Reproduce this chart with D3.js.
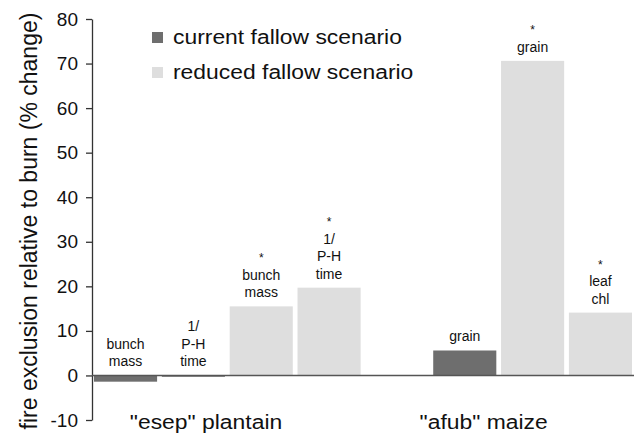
<!DOCTYPE html>
<html>
<head>
<meta charset="utf-8">
<script src="https://cdn.jsdelivr.net/npm/d3@7"></script>
<style>
  body { margin: 0; background: #fff; }
  text { font-family: "Liberation Sans", Arial, sans-serif; fill: #111; }
</style>
</head>
<body>
<div id="chart-area"></div>
<script>
// bars, left to right (a blank slot separates the two crops)
var crops = ['"esep" plantain', '"afub" maize'];
var scenarios = ["current fallow scenario", "reduced fallow scenario"];
var barSlot = [0, 1, 2, 3, 5, 6, 7];
var barScenario = [0, 0, 1, 1, 0, 1, 1];
var barValues = [-1.4, -0.3, 15.5, 19.7, 5.6, 70.6, 14.1];
var barLabels = [
  ["bunch", "mass"],
  ["1/", "P-H", "time"],
  ["*", "bunch", "mass"],
  ["*", "1/", "P-H", "time"],
  ["grain"],
  ["*", "grain"],
  ["*", "leaf", "chl"]
];
var yTicks = [-10, 0, 10, 20, 30, 40, 50, 60, 70, 80];
var colors = ["#6e6e6e", "#dedede"];

var width = 635, height = 439;
var stretch = 1.09; // the original's text is a little wider than Arial

var svg = d3.select("#chart-area")
  .append("svg")
  .attr("width", width)
  .attr("height", height);

var y = d3.scaleLinear().domain([-10, 80]).range([420, 19]);
var x = d3.scaleBand().domain(d3.range(8)).range([94, 632]).paddingInner(0.07).paddingOuter(0);

// y axis
var yAxis = svg.append("g")
  .attr("transform", "translate(92,0)")
  .call(d3.axisLeft(y).tickValues(yTicks).tickFormat(function(d) { return String(d); })
    .tickSize(6).tickPadding(8).tickSizeOuter(0));
yAxis.select(".domain").attr("stroke", "#333").attr("stroke-width", 1.3);
yAxis.selectAll(".tick line").attr("stroke", "#333").attr("stroke-width", 1.3);
yAxis.selectAll(".tick text")
  .style("font-family", "'Liberation Sans', Arial, sans-serif")
  .style("font-size", "19px")
  .attr("fill", "#111");

// bars
svg.selectAll("rect.bar")
  .data(barValues)
  .enter()
  .append("rect")
  .attr("class", "bar")
  .attr("x", function(d, i) { return x(barSlot[i]); })
  .attr("width", x.bandwidth())
  .attr("y", function(d) { return y(Math.max(d, 0)); })
  .attr("height", function(d) { return Math.max(Math.abs(y(d) - y(0)), 1); })
  .attr("fill", function(d, i) { return colors[barScenario[i]]; });

// zero line
svg.append("line")
  .attr("x1", 92).attr("x2", 634)
  .attr("y1", y(0)).attr("y2", y(0))
  .attr("stroke", "#555").attr("stroke-width", 1.5);

// bar annotations
var lineH = 17.5;
barValues.forEach(function(v, i) {
  var lines = barLabels[i];
  var cx = x(barSlot[i]) + x.bandwidth() / 2;
  var base = y(Math.max(v, 0)) - 9;
  var t = svg.append("text")
    .attr("text-anchor", "middle")
    .style("font-size", "14px");
  lines.forEach(function(s, j) {
    t.append("tspan")
      .attr("x", cx)
      .attr("y", base - (lines.length - 1 - j) * lineH)
      .style("font-size", s === "*" ? "12px" : "14px")
      .text(s);
  });
});

// crop labels
var cropX = [x(1) + x.bandwidth() * 0.7, x(5) + x.bandwidth() * 0.8];
svg.selectAll("text.crop")
  .data(crops)
  .enter()
  .append("text")
  .attr("class", "crop")
  .attr("transform", function(d, i) { return "translate(" + cropX[i] + ",429) scale(" + stretch + ",1)"; })
  .attr("text-anchor", "middle")
  .style("font-size", "21px")
  .text(function(d) { return d; });

// y axis title
svg.append("text")
  .attr("transform", "translate(37,221) rotate(-90)")
  .attr("text-anchor", "middle")
  .style("font-size", "23px")
  .text("fire exclusion relative to burn (% change)");

// legend
var legend = svg.selectAll("g.legend")
  .data(scenarios)
  .enter()
  .append("g")
  .attr("class", "legend")
  .attr("transform", function(d, i) { return "translate(152," + (32 + i * 35) + ")"; });
legend.append("rect")
  .attr("width", 11).attr("height", 11)
  .attr("fill", function(d, i) { return colors[i]; });
legend.append("text")
  .attr("transform", "translate(21,12) scale(" + stretch + ",1)")
  .style("font-size", "21px")
  .text(function(d) { return d; });
</script>
</body>
</html>
